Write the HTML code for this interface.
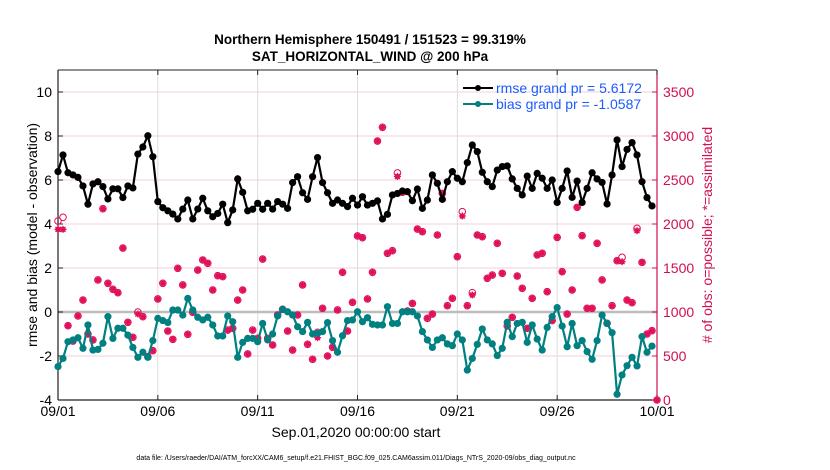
<!DOCTYPE html>
<html><head><meta charset="utf-8"><style>
body{margin:0;background:#fff;}
svg{display:block;font-family:"Liberation Sans",sans-serif;}
</style></head><body>
<svg id="chart" width="830" height="470" viewBox="0 0 830 470">
<text x="370" y="44" text-anchor="middle" font-size="13.5" font-weight="bold">Northern Hemisphere 150491 / 151523 = 99.319%</text>
<text x="370" y="61" text-anchor="middle" font-size="13.5" font-weight="bold">SAT_HORIZONTAL_WIND @ 200 hPa</text>
<g id="grid"></g>
<g id="axes"></g>
<g id="obs"></g>
<g id="bias"></g>
<g id="rmse"></g>
<g>
 <line x1="463" y1="88" x2="493" y2="88" stroke="#000" stroke-width="2"/>
 <circle cx="478" cy="88" r="3" fill="#000"/>
 <text x="496" y="93" font-size="14" fill="#1a5cff">rmse grand pr = 5.6172</text>
 <line x1="463" y1="104" x2="493" y2="104" stroke="#008080" stroke-width="2"/>
 <circle cx="478" cy="104" r="3" fill="#008080"/>
 <text x="496" y="109" font-size="14" fill="#1a5cff">bias grand pr = -1.0587</text>
</g>
<text transform="translate(37,235) rotate(-90)" text-anchor="middle" font-size="14">rmse and bias (model - observation)</text>
<text transform="translate(712,235) rotate(-90)" text-anchor="middle" font-size="14" fill="#d0104c"># of obs: o=possible; *=assimilated</text>
<text x="356" y="437" text-anchor="middle" font-size="14">Sep.01,2020 00:00:00 start</text>
<text x="356" y="460" text-anchor="middle" font-size="7">data file: /Users/raeder/DAI/ATM_forcXX/CAM6_setup/f.e21.FHIST_BGC.f09_025.CAM6assim.011/Diags_NTrS_2020-09/obs_diag_output.nc</text>
</svg>
<script>
const rmse=[6.38,7.14,6.33,6.23,6.12,5.73,4.9,5.82,5.92,5.7,5.14,5.6,5.6,5.2,5.73,5.64,7.18,7.5,8.01,7.06,5.02,4.74,4.6,4.45,4.23,4.68,5.09,4.23,4.68,5.17,4.6,4.33,4.48,4.9,4.06,4.64,6.05,5.44,4.6,4.67,
4.94,4.67,4.94,4.68,5.02,4.9,4.71,5.88,6.15,5.42,5.12,6.15,7.02,5.88,5.42,4.94,5.09,4.94,4.79,5.17,4.86,5.24,4.86,4.94,5.05,4.23,4.44,5.32,5.39,5.5,5.47,5.06,5.59,4.71,5.09,6.23,5.85,5.12,5.92,6.38,
6.08,5.92,6.79,7.59,7.29,6.35,5.92,5.7,6.45,6.61,6.64,6.05,5.62,5.32,6.18,5.62,6.3,6.08,5.62,6.0,4.98,5.62,6.41,5.21,5.95,4.98,5.62,6.33,6.05,5.89,4.91,6.23,7.82,6.61,7.39,7.7,7.14,5.92,5.2,4.82];
const bias=[-2.48,-2.11,-1.35,-1.27,-1.17,-1.65,-0.59,-1.73,-1.7,-1.42,-0.21,-1.2,-0.74,-0.74,-1.05,-1.61,-2.06,-1.83,-2.06,-1.3,-0.29,-0.39,-0.48,0.09,0.09,-0.14,0.62,0.09,-0.24,-0.36,-0.24,-0.59,-1.09,-1.09,-0.18,-0.44,-2.06,-1.38,-1.2,-1.2,
-1.35,-0.52,-1.27,-1.0,-0.18,0.12,0.01,-0.14,-0.67,-0.89,-0.47,-1.0,-0.97,-0.89,-0.48,-1.3,-1.83,-1.08,-0.39,-0.36,0.01,-0.44,-0.26,-0.56,-0.59,-0.59,0.24,-0.52,-0.52,0.01,0.01,0.01,-0.18,-0.89,-1.27,-1.61,-1.27,-1.17,-1.45,-1.53,
-1.0,-1.27,-2.64,-2.11,-1.47,-0.77,-1.27,-1.45,-1.98,-1.65,-0.47,-1.12,-0.52,-0.47,-1.38,-0.59,-1.23,-1.73,-0.7,-0.21,0.2,-0.64,-1.58,-0.52,-1.53,-1.3,-1.8,-2.15,-1.3,-0.14,-0.52,-0.94,-3.74,-2.86,-2.44,-2.06,-2.45,-1.12,-1.83,-1.55];
const obsPossible=[2034,2076,845,670,955,1136,750,682,1364,2174,1326,1258,1220,1727,883,712,1000,947,492,561,1148,1326,784,689,1496,1307,746,996,1477,1591,1553,1250,1413,1402,795,814,1136,1250,523,795,
701,1602,701,625,966,1030,784,568,966,1307,633,462,769,1042,500,599,1023,1451,784,1110,1864,1845,1148,1451,2943,3099,1667,1697,2580,2360,1011,1098,1943,1913,928,977,1875,2348,1072,1155,
1629,2140,1072,1220,1875,1856,1383,1420,1780,1439,841,939,1409,1269,814,1155,1648,1667,1231,902,1848,1458,977,1250,2189,1867,1042,1042,1780,1364,871,1072,1583,1621,1136,1106,1951,1564,750,788,0];
const obsAssim=[1939,1939,845,670,955,1136,750,682,1364,2174,1326,1258,1220,1727,883,712,977,947,492,561,1148,1326,784,689,1496,1307,746,996,1477,1591,1553,1250,1413,1402,795,814,1136,1250,523,795,
701,1602,701,625,966,1030,784,568,966,1307,633,462,708,1042,500,599,1023,1451,784,1110,1864,1845,1148,1451,2943,3099,1667,1697,2540,2360,1011,1098,1943,1913,928,977,1875,2348,1072,1155,
1629,2091,1072,1193,1875,1856,1383,1420,1780,1439,841,939,1409,1269,814,1155,1648,1667,1231,902,1848,1458,977,1250,2189,1867,1042,1042,1780,1364,871,1072,1583,1572,1136,1106,1924,1564,750,788,0];
const leftTicks=[-4,-2,0,2,4,6,8,10];
const rightTicks=[0,500,1000,1500,2000,2500,3000,3500];
const dateTicks=["09/01","09/06","09/11","09/16","09/21","09/26","10/01"];

const NS="http://www.w3.org/2000/svg";
const X0=58,X1=657,Y0=400,Y1=70;
const xs=i=>X0+i*(X1-X0)/120;           // 6-hourly index
const xd=d=>X0+d*(X1-X0)/30;            // day
const yl=v=>Y0-(v+4)*(Y0-Y1)/15;        // left axis -4..11
const yr=v=>Y0-v*(Y0-Y1)/3750;          // right axis 0..3750
function mk(tag,attrs,parent){const e=document.createElementNS(NS,tag);for(const k in attrs)e.setAttribute(k,attrs[k]);parent.appendChild(e);return e;}
const grid=document.getElementById('grid'),axes=document.getElementById('axes');
rightTicks.forEach((v,i)=>{if(v===0)return;const l=mk('line',{x1:X0,x2:X1,y1:yr(v),y2:yr(v),stroke:'#f0d0dc','stroke-width':1},grid);

});
dateTicks.forEach((t,i)=>{if(i===0||i===6)return;const l=mk('line',{x1:xd(i*5),x2:xd(i*5),y1:Y1,y2:Y0,stroke:'#dcdcdc','stroke-width':1},grid);

});
const z=mk('line',{x1:X0,x2:X1,y1:yl(0),y2:yl(0),stroke:'#bdbdbd','stroke-width':2.5},grid);


mk('line',{x1:X0,x2:X1,y1:Y1,y2:Y1,stroke:'#222','stroke-width':1},axes);
mk('line',{x1:X0,x2:X1,y1:Y0,y2:Y0,stroke:'#2a1a1a','stroke-width':1.2},axes);
mk('line',{x1:X0,x2:X0,y1:Y1,y2:Y0,stroke:'#2a1a1a','stroke-width':1.2},axes);
mk('line',{x1:X1,x2:X1,y1:Y1,y2:Y0,stroke:'#d0104c','stroke-width':1.2},axes);
leftTicks.forEach(v=>{mk('line',{x1:X0,x2:X0+5,y1:yl(v),y2:yl(v),stroke:'#222'},axes);
const t=mk('text',{x:X0-6,y:yl(v)+5,'text-anchor':'end','font-size':14},axes);t.textContent=v;

});
rightTicks.forEach(v=>{mk('line',{x1:X1-5,x2:X1,y1:yr(v),y2:yr(v),stroke:'#d0104c'},axes);
const t=mk('text',{x:X1+6,y:yr(v)+5,'font-size':14,fill:'#d0104c'},axes);t.textContent=v;

});
dateTicks.forEach((d,i)=>{const x=xd(i*5);mk('line',{x1:x,x2:x,y1:Y0,y2:Y0-5,stroke:'#222'},axes);mk('line',{x1:x,x2:x,y1:Y1,y2:Y1+5,stroke:'#222'},axes);
const t=mk('text',{x:x,y:Y0+16,'text-anchor':'middle','font-size':14},axes);t.textContent=d;

});
// obs
const og=document.getElementById('obs');
obsPossible.forEach((v,i)=>{const c=mk('circle',{cx:xs(i),cy:yr(v),r:3.3,fill:'none',stroke:'#e0105a','stroke-width':1},og);

});
obsAssim.forEach((v,i)=>{const x=xs(i),y=yr(v);const g=mk('g',{stroke:'#e0105a','stroke-width':1.3},og);


mk('circle',{cx:x,cy:y,r:2.6,fill:'#e0105a',stroke:'none'},g);
[[3.5,0],[0,3.5],[2.5,2.5],[2.5,-2.5]].forEach(([a,b])=>mk('line',{x1:x-a,y1:y-b,x2:x+a,y2:y+b},g));});
function series(arr,col,gid,r,name){const g=document.getElementById(gid);
const p=mk('polyline',{points:arr.map((v,i)=>xs(i)+','+yl(v)).join(' '),fill:'none',stroke:col,'stroke-width':2.2},g);


arr.forEach((v,i)=>{const c=mk('circle',{cx:xs(i),cy:yl(v),r:r,fill:col},g);

});}
series(bias,'#008080','bias',3.6,'bias');
series(rmse,'#000','rmse',3.6,'rmse');
</script>
</body></html>
